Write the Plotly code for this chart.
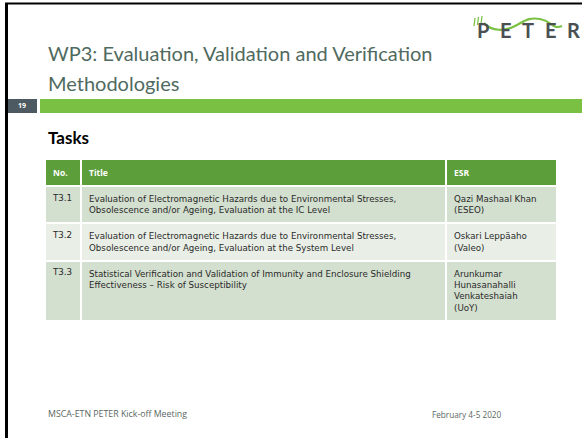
import plotly.graph_objects as go

W, H = 582, 438

# ---- data ----
header = ["No.", "Title", "ESR"]
task_no = ["T3.1", "T3.2", "T3.3"]
task_title = [
    "Evaluation of Electromagnetic Hazards due to Environmental Stresses,<br>Obsolescence and/or Ageing, Evaluation at the IC Level",
    "Evaluation of Electromagnetic Hazards due to Environmental Stresses,<br>Obsolescence and/or Ageing, Evaluation at the System Level",
    "Statistical Verification and Validation of Immunity and Enclosure Shielding<br>Effectiveness \u2013 Risk of Susceptibility",
]
task_esr = [
    "Qazi Mashaal Khan<br>(ESEO)",
    "Oskari Lepp\u00e4aho<br>(Valeo)",
    "Arunkumar<br>Hunasanahalli<br>Venkateshaiah<br>(UoY)",
]
title_lines = ["WP3: Evaluation, Validation and Verification", "Methodologies"]
section = "Tasks"
slide_no = "19"
footer_left = "MSCA-ETN PETER Kick-off Meeting"
footer_right = "February 4-5 2020"
logo_text = "PETER"

FONT = "Open Sans"
CFONT = "DejaVu Sans"
TFONT = "Lato"
row_fill = ["#d3dfcf", "#e9efe7", "#d3dfcf"]


def px(x):
    return x / W


def py(y):
    return 1 - y / H


fig = go.Figure()

fig.add_trace(go.Table(
    domain=dict(x=[px(45), px(557)], y=[py(335), py(159)]),
    columnwidth=[36, 365, 111],
    header=dict(
        values=["<b>%s</b>" % h for h in header],
        fill_color="#5c9e3a",
        line=dict(color="white", width=2),
        font=dict(family=FONT, size=8.5, color="white"),
        align="left",
        height=25,
    ),
    cells=dict(
        values=[task_no, task_title, task_esr],
        fill_color=[row_fill, row_fill, row_fill],
        line=dict(color="white", width=2),
        font=dict(family=CFONT, size=8.7, color="#2a2a2a"),
        align="left",
        height=37,
    ),
))

shapes = [
    # slide border
    dict(type="line", xref="paper", yref="paper", x0=px(6.5), x1=px(6.5), y0=py(3), y1=py(438),
         line=dict(color="black", width=3)),
    dict(type="line", xref="paper", yref="paper", x0=px(5), x1=px(582), y0=py(3.5), y1=py(3.5),
         line=dict(color="black", width=2)),
    # slide number box
    dict(type="rect", xref="paper", yref="paper", x0=px(8), x1=px(37), y0=py(113), y1=py(99),
         fillcolor="#4d5a62", line=dict(width=0)),
    # green bar
    dict(type="rect", xref="paper", yref="paper", x0=px(40), x1=px(582), y0=py(113), y1=py(99),
         fillcolor="#7ac143", line=dict(width=0)),
    # logo wave
    dict(type="path", xref="paper", yref="paper",
         path="M %f,%f C %f,%f %f,%f %f,%f S %f,%f %f,%f S %f,%f %f,%f" % (
             px(484), py(23), px(492), py(32), px(505), py(31), px(515), py(26),
             px(528), py(17), px(540), py(19), px(552), py(30), px(562), py(26)),
         line=dict(color="#7ac143", width=2.2)),
]
for i, dx in enumerate([0, 3.5, 7]):
    shapes.append(dict(type="line", xref="paper", yref="paper",
                       x0=px(474 + dx), x1=px(475 + dx), y0=py(26 - i), y1=py(18 - i),
                       line=dict(color="#7ac143", width=1.2)))

annotations = [
    dict(text=title_lines[0], x=px(46), y=py(53), xref="paper", yref="paper", xanchor="left", yanchor="middle",
         showarrow=False, font=dict(family=TFONT, size=20, color="#4f6a5e")),
    dict(text=title_lines[1], x=px(46), y=py(83), xref="paper", yref="paper", xanchor="left", yanchor="middle",
         showarrow=False, font=dict(family=TFONT, size=20, color="#4f6a5e")),
    dict(text="<b>%s</b>" % slide_no, x=px(22), y=py(106), xref="paper", yref="paper",
         xanchor="center", yanchor="middle",
         showarrow=False, font=dict(family=FONT, size=7, color="white")),
    dict(text="<b>%s</b>" % section, x=px(46), y=py(137), xref="paper", yref="paper", xanchor="left",
         yanchor="middle", showarrow=False, font=dict(family=TFONT, size=17, color="black")),
    dict(text=footer_left, x=px(46), y=py(414), xref="paper", yref="paper", xanchor="left",
         yanchor="middle", showarrow=False, font=dict(family=FONT, size=8.8, color="#5a6863")),
    dict(text=footer_right, x=px(503), y=py(414), xref="paper", yref="paper", xanchor="right",
         yanchor="middle", showarrow=False, font=dict(family=FONT, size=8.2, color="#5a6863")),
]
for i, ch in enumerate(logo_text):
    annotations.append(dict(text="<b>%s</b>" % ch, x=px(483 + i * 22.5), y=py(30), xref="paper", yref="paper",
                            xanchor="center", yanchor="middle", showarrow=False,
                            font=dict(family=TFONT, size=20, color="#4a5052")))

fig.update_layout(
    width=W, height=H, autosize=False,
    margin=dict(l=0, r=0, t=0, b=0),
    paper_bgcolor="white", plot_bgcolor="white",
    shapes=shapes, annotations=annotations,
    showlegend=False,
)

fig.write_html("out.html", config={"displayModeBar": False},
               post_script="document.body.style.margin='0';")
